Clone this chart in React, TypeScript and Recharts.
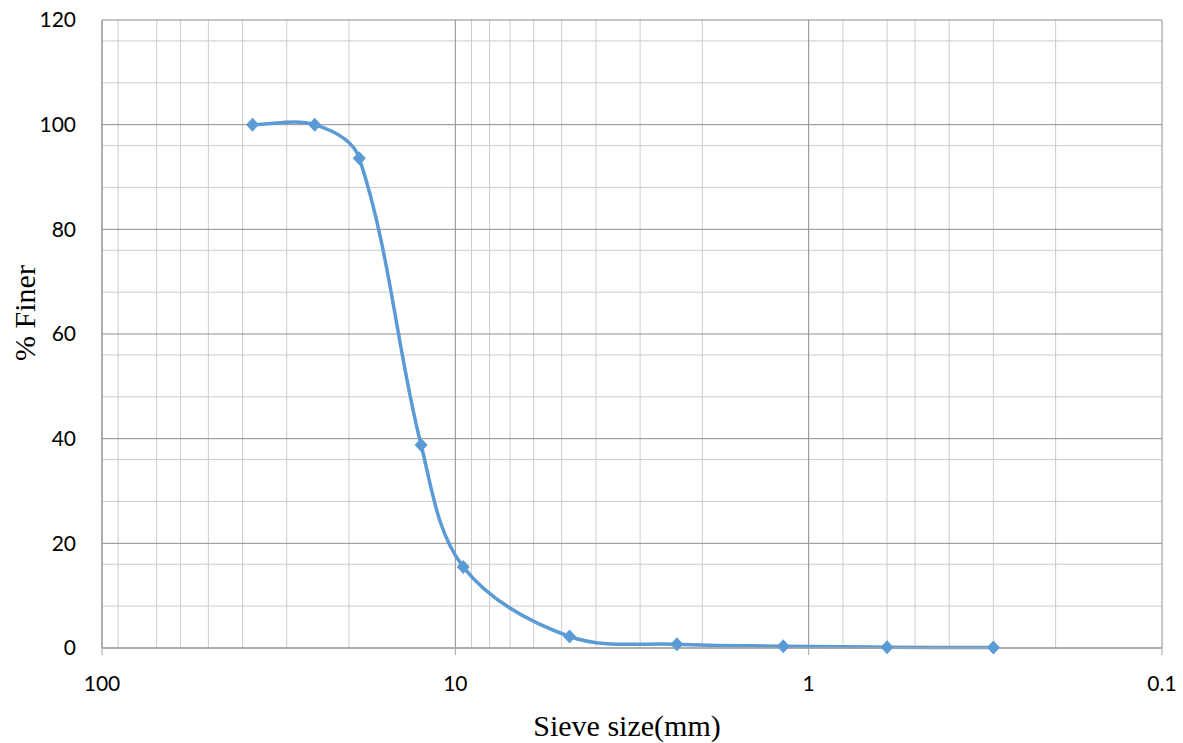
import React from 'react';
import { LineChart, Line, XAxis, YAxis, CartesianGrid, Label } from 'recharts';

// Sieve analysis readings (mm, % finer)
const sieveSizes = [37.5, 25, 18.7, 12.5, 9.5, 4.75, 2.36, 1.18, 0.6, 0.3];
const percentFiner = [100, 100, 93.6, 38.8, 15.5, 2.2, 0.7, 0.35, 0.15, 0.1];

const xTicks = [100, 10, 1, 0.1];
const yTicks = [0, 20, 40, 60, 80, 100, 120];
const xMinor = [90, 80, 70, 60, 50, 40, 30, 20, 9, 8, 7, 6, 5, 4, 3, 2, 0.9, 0.8, 0.7, 0.6, 0.5, 0.4, 0.3, 0.2];
const yMinor = [4, 8, 12, 16, 24, 28, 32, 36, 44, 48, 52, 56, 64, 68, 72, 76, 84, 88, 92, 96, 104, 108, 112, 116];

const data = sieveSizes.map((size, i) => ({ size, finer: percentFiner[i] }));

const BLUE = '#5b9bd5';

// smoothed line: tangent direction from the neighbours, length from the segment
const excelSmooth = (context: any) => {
  let pts: number[][] = [];
  const tangent = (a: number[], b: number[]) => {
    const dx = b[0] - a[0];
    const dy = b[1] - a[1];
    const len = Math.hypot(dx, dy) || 1;
    return [dx / len, dy / len];
  };
  return {
    areaStart() {},
    areaEnd() {},
    lineStart() {
      pts = [];
    },
    point(x: number, y: number) {
      pts.push([+x, +y]);
    },
    lineEnd() {
      if (!pts.length) return;
      context.moveTo(pts[0][0], pts[0][1]);
      for (let i = 0; i < pts.length - 1; i++) {
        const p0 = pts[i - 1] || pts[i];
        const p1 = pts[i];
        const p2 = pts[i + 1];
        const p3 = pts[i + 2] || p2;
        const seg = Math.hypot(p2[0] - p1[0], p2[1] - p1[1]) / 3;
        const t1 = tangent(p0, p2);
        const t2 = tangent(p1, p3);
        context.bezierCurveTo(
          p1[0] + t1[0] * seg,
          p1[1] + t1[1] * seg,
          p2[0] - t2[0] * seg,
          p2[1] - t2[1] * seg,
          p2[0],
          p2[1]
        );
      }
    },
  };
};

const Diamond = (props: any) => {
  const { cx, cy } = props;
  if (cx == null || cy == null) return null;
  const r = 7;
  return (
    <polygon
      points={`${cx},${cy - r} ${cx + r - 0.5},${cy} ${cx},${cy + r} ${cx - r + 0.5},${cy}`}
      fill={BLUE}
    />
  );
};

const YTitle = (props: any) => {
  const { viewBox } = props;
  const x = viewBox.x + 35;
  const y = viewBox.y + viewBox.height / 2 - 21;
  return (
    <text
      x={x}
      y={y}
      transform={`rotate(-90 ${x} ${y})`}
      textAnchor="middle"
      fontFamily="'Liberation Serif', 'Times New Roman', serif"
      fontSize={30}
      fill="#000"
    >
      % Finer
    </text>
  );
};

const tickStyle = { fontFamily: "Lato, 'Open Sans', sans-serif", fontSize: 21, fill: '#000' };

export default function App() {
  return (
    <div style={{ position: 'absolute', left: 0, top: 0, background: '#fff' }}>
      <LineChart width={1183} height={743} data={data} margin={{ top: 20, right: 21, left: 0, bottom: 0 }}>
        <CartesianGrid
          stroke="#cccccc"
          verticalValues={xMinor}
          horizontalValues={yMinor}
        />
        <CartesianGrid stroke="#8e8e8e" />
        <XAxis
          dataKey="size"
          type="number"
          scale="log"
          domain={[0.1, 100]}
          allowDataOverflow
          reversed
          ticks={xTicks}
          height={95}
          tick={tickStyle}
          tickSize={7}
          tickMargin={21}
          axisLine={{ stroke: '#a6a6a6', strokeWidth: 1.5 }}
          tickLine={{ stroke: '#a6a6a6' }}
        >
          <Label
            value="Sieve size(mm)"
            position="insideBottom"
            offset={7}
            dx={-5}
            style={{ fontFamily: "'Liberation Serif', 'Times New Roman', serif", fontSize: 30, fill: '#000' }}
          />
        </XAxis>
        <YAxis
          type="number"
          domain={[0, 120]}
          ticks={yTicks}
          width={102}
          tick={tickStyle}
          tickSize={20}
          tickMargin={6}
          tickLine={false}
          axisLine={{ stroke: '#a6a6a6', strokeWidth: 1.5 }}
        >
          <Label content={YTitle} />
        </YAxis>
        <Line
          dataKey="finer"
          type={excelSmooth as any}
          stroke={BLUE}
          strokeWidth={3.5}
          dot={(p: any) => <Diamond key={`d-${p.index}`} {...p} />}
          activeDot={false}
          isAnimationActive={false}
        />
      </LineChart>
    </div>
  );
}
